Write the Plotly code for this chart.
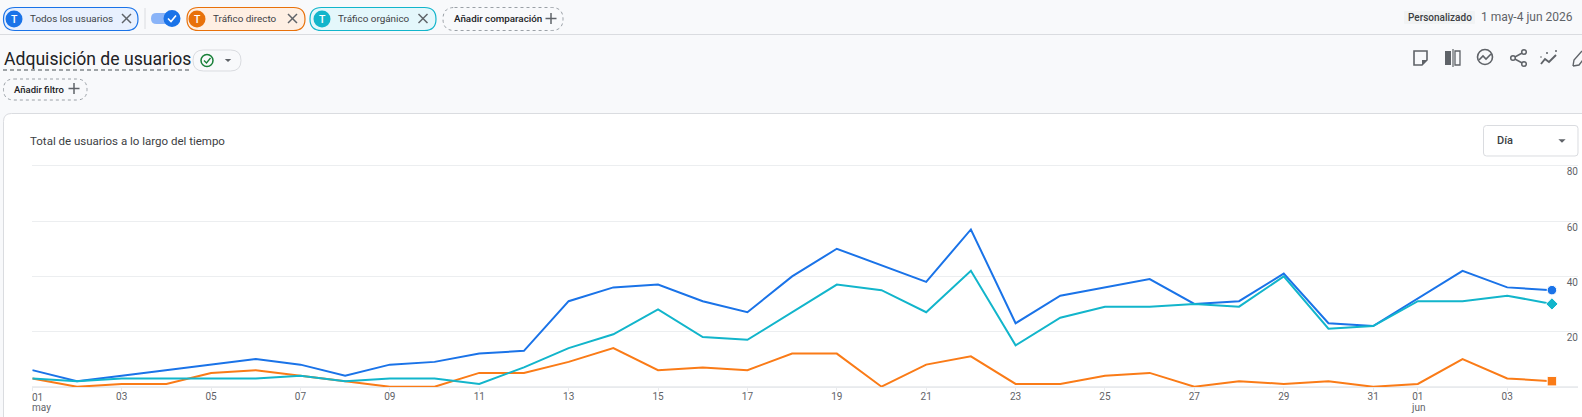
import plotly.graph_objects as go
import pandas as pd

W, H = 1582, 417

# Serie diaria de usuarios, 1 may - 4 jun 2026
dias = [d.strftime("%Y-%m-%d") for d in pd.date_range("2026-05-01", "2026-06-04")]
todos_usuarios = [6, 2, 4, 6, 8, 10, 8, 4, 8, 9, 12, 13, 31, 36, 37, 31, 27, 40, 50, 44, 38, 57, 23, 33, 36, 39, 30, 31, 41, 23, 22, 32, 42, 36, 35]
trafico_directo = [3, 0, 1, 1, 5, 6, 4, 2, 0, 0, 5, 5, 9, 14, 6, 7, 6, 12, 12, 0, 8, 11, 1, 1, 4, 5, 0, 2, 1, 2, 0, 1, 10, 3, 2]
trafico_organico = [3, 2, 3, 3, 3, 3, 4, 2, 3, 3, 1, 7, 14, 19, 28, 18, 17, 27, 37, 35, 27, 42, 15, 25, 29, 29, 30, 29, 40, 21, 22, 31, 31, 33, 30]

ticks_x = ["2026-05-01", "2026-05-03", "2026-05-05", "2026-05-07", "2026-05-09", "2026-05-11", "2026-05-13", "2026-05-15",
           "2026-05-17", "2026-05-19", "2026-05-21", "2026-05-23", "2026-05-25", "2026-05-27", "2026-05-29",
           "2026-05-31", "2026-06-01", "2026-06-03"]
etiquetas_x = ["", "03", "05", "07", "09", "11", "13", "15", "17", "19", "21", "23", "25", "27", "29", "31", "01", "03"]
ticks_y = [0, 20, 40, 60, 80]

AZUL, NARANJA, CIAN = "#1a73e8", "#fa7b17", "#12b5cb"
TEXTO, GRIS = "#3c4043", "#5f6368"
FUENTE = "Roboto"


def fx(x):
    return x / W


def fy(y):
    return 1 - y / H


shapes, notas = [], []


def linea(x0, y0, x1, y1, color, ancho=1, dash="solid"):
    shapes.append(dict(type="line", xref="paper", yref="paper", x0=fx(x0), y0=fy(y0), x1=fx(x1), y1=fy(y1),
                       line=dict(color=color, width=ancho, dash=dash)))


def trazado(puntos, relleno=None, color=None, ancho=1, dash="solid"):
    # Cada punto es (comando, x, y, ...) en píxeles de la página
    partes = []
    for p in puntos:
        if p[0] == "Z":
            partes.append("Z")
            continue
        coords = p[1:]
        pares = [f"{fx(coords[i]):.5f},{fy(coords[i + 1]):.5f}" for i in range(0, len(coords), 2)]
        partes.append(p[0] + " ".join(pares))
    shapes.append(dict(type="path", xref="paper", yref="paper", path=" ".join(partes),
                       fillcolor=relleno or "rgba(0,0,0,0)",
                       line=dict(color=color or "rgba(0,0,0,0)", width=ancho if color else 0, dash=dash)))


def caja(x0, y0, x1, y1, r, relleno=None, color=None, ancho=1, dash="solid"):
    trazado([("M", x0 + r, y0), ("L", x1 - r, y0), ("Q", x1, y0, x1, y0 + r), ("L", x1, y1 - r),
             ("Q", x1, y1, x1 - r, y1), ("L", x0 + r, y1), ("Q", x0, y1, x0, y1 - r), ("L", x0, y0 + r),
             ("Q", x0, y0, x0 + r, y0), ("Z",)], relleno, color, ancho, dash)


def disco(cx, cy, r, relleno=None, color=None, ancho=1):
    shapes.append(dict(type="circle", xref="paper", yref="paper", x0=fx(cx - r), x1=fx(cx + r), y0=fy(cy + r), y1=fy(cy - r),
                       fillcolor=relleno or "rgba(0,0,0,0)",
                       line=dict(color=color or "rgba(0,0,0,0)", width=ancho if color else 0)))


def texto(x, y, t, size=9.9, color=TEXTO, anchor="left", weight=400, align="left"):
    notas.append(dict(xref="paper", yref="paper", x=fx(x), y=fy(y), text=t, showarrow=False, xanchor=anchor, yanchor="middle",
                      align=align, borderpad=0, font=dict(family=FUENTE, size=size, color=color, weight=weight)))


def cruz(cx, cy, r, color=GRIS):
    linea(cx - r, cy - r, cx + r, cy + r, color, 1.5)
    linea(cx - r, cy + r, cx + r, cy - r, color, 1.5)


def mas(cx, cy, r, color=GRIS):
    linea(cx - r, cy, cx + r, cy, color, 1.5)
    linea(cx, cy - r, cx, cy + r, color, 1.5)


def chip(x0, x1, cx, tx, xx, etiqueta, color, fondo):
    caja(x0, 7.5, x1, 30.5, 11.5, fondo, color, 1.2)
    disco(cx, 19, 8.5, color)
    texto(cx, 19, "T", 10.5, "#ffffff", "center", 500)
    texto(tx, 18.5, etiqueta)
    cruz(xx, 18.5, 4.5)


def triangulo(cx, cy, r, color=GRIS):
    trazado([("M", cx - r, cy - r / 2), ("L", cx + r, cy - r / 2), ("L", cx, cy + r / 2), ("Z",)], color)


# Barra superior de comparaciones
chip(3.5, 138, 14, 28.5, 126.5, "Todos los usuarios", AZUL, "#e8f0fe")
linea(145, 8, 145, 29, "#dadce0")
caja(151, 13, 176, 24, 5.5, "#8ab4f8")
disco(172, 18.5, 8.5, AZUL)
trazado([("M", 168, 18.5), ("L", 171, 21.5), ("L", 176, 15.5)], None, "#ffffff", 1.6)
chip(187, 305, 197, 212, 292.5, "Tráfico directo", "#e8710a", "#feefe3")
chip(310, 436, 322, 337, 423, "Tráfico orgánico", CIAN, "#e4f7fb")
caja(443, 7.5, 563, 30.5, 11.5, None, "#9aa0a6", 1, "dot")
texto(453, 18.5, "Añadir comparación", 9.8, "#202124", weight=500)
mas(551, 18.5, 5.5)
linea(0, 34.5, W, 34.5, "#dadce0")

caja(1404, 11, 1475, 24, 1, "#f1f3f4")
texto(1407, 17.5, "Personalizado", 10, TEXTO, weight=500)
texto(1480, 17.5, "1 may-4 jun 2026", 12, GRIS)

# Cabecera del informe
texto(3, 59, "Adquisición de usuarios", 17.6, "#202124")
linea(3, 70, 190, 70, "#80868b", 1.5, "4px,3px")
caja(193, 50, 241, 71, 10.5, "#f8f9fb", "#dadce0")
disco(207, 60.5, 6, None, "#188038", 1.5)
trazado([("M", 204, 60.5), ("L", 206.5, 63), ("L", 210.5, 58)], None, "#188038", 1.3)
triangulo(228, 60.5, 3.2)
caja(3.5, 79, 87, 100, 10.5, None, "#9aa0a6", 1, "dot")
texto(12.5, 89, "Añadir filtro", 9.5, "#202124", weight=500)
mas(74, 88.5, 5.5)

# Iconos de acciones
trazado([("M", 1414, 51), ("L", 1427, 51), ("L", 1427, 60), ("L", 1422, 65), ("L", 1414, 65), ("Z",)], None, GRIS, 1.6)
trazado([("M", 1427, 60), ("L", 1422, 60), ("L", 1422, 65), ("Z",)], GRIS)
trazado([("M", 1445, 51), ("L", 1451, 51), ("L", 1451, 65), ("L", 1445, 65), ("Z",)], GRIS)
linea(1453, 49, 1453, 67, GRIS, 1.2)
trazado([("M", 1455, 51), ("L", 1460, 51), ("L", 1460, 65), ("L", 1455, 65), ("Z",)], None, GRIS, 1.3)
disco(1485, 57, 7.5, None, GRIS, 1.6)
trazado([("M", 1479, 60), ("L", 1483, 56), ("L", 1486, 59), ("L", 1491, 54)], None, GRIS, 1.6)
trazado([("M", 1524, 52), ("L", 1513, 58), ("L", 1524, 64)], None, GRIS, 1.5)
disco(1524, 52, 2.3, "#f8f9fb", GRIS, 1.5)
disco(1513, 58, 2.3, "#f8f9fb", GRIS, 1.5)
disco(1524, 64, 2.3, "#f8f9fb", GRIS, 1.5)
trazado([("M", 1541, 64), ("L", 1545, 59), ("L", 1549, 62), ("L", 1556, 55)], None, GRIS, 1.9)
disco(1547, 53, 1, GRIS)
disco(1556, 51, 1, GRIS)
disco(1541, 57, 0.8, GRIS)
trazado([("M", 1573, 66), ("L", 1574, 60), ("L", 1582, 51), ("M", 1573, 66), ("L", 1579, 65), ("L", 1586, 56)], None, GRIS, 1.4)

# Tarjeta del gráfico
caja(3.5, 113.5, W + 20, H + 20, 8, "#ffffff", "#dadce0")
texto(28.5, 141, "Total de usuarios a lo largo del tiempo", 11.5, TEXTO)
caja(1483.5, 125.5, 1578, 156, 3, "#ffffff", "#dadce0")
texto(1496, 140.5, "Día", 11, TEXTO, weight=500)
triangulo(1562, 141, 3.6)

# Hueco vertical de la rejilla en el último día
shapes.append(dict(type="line", xref="x", yref="paper", x0=dias[-1], x1=dias[-1], y0=fy(387.3), y1=fy(160),
                   layer="between", line=dict(color="#ffffff", width=4)))


# Rótulos de mes bajo el eje; el primer día va alineado a la izquierda de su marca
def rotulo_eje(fecha, y, t, anchor):
    notas.append(dict(xref="x", yref="paper", x=fecha, y=fy(y), text=t, showarrow=False, xanchor=anchor,
                      yanchor="middle", borderpad=0, xshift=-1 if anchor == "left" else 0,
                      font=dict(family=FUENTE, size=10, color=GRIS)))


rotulo_eje("2026-05-01", 397, "01", "left")
rotulo_eje("2026-05-01", 407, "may", "left")
rotulo_eje("2026-06-01", 407, "jun", "center")

for s in shapes:
    s.setdefault("layer", "below")

fig = go.Figure()
for nombre, serie, color, simbolo in [("Todos los usuarios", todos_usuarios, AZUL, "circle"),
                                      ("Tráfico directo", trafico_directo, NARANJA, "square"),
                                      ("Tráfico orgánico", trafico_organico, CIAN, "diamond")]:
    fig.add_trace(go.Scatter(x=dias, y=serie, mode="lines", name=nombre, cliponaxis=False,
                             line=dict(color=color, width=2)))
    fig.add_trace(go.Scatter(x=dias[-1:], y=serie[-1:], mode="markers", name=nombre, cliponaxis=False,
                             marker=dict(color=color, symbol=simbolo, size=9.5, line=dict(color="#ffffff", width=1))))

# Escala vertical: el rango sobresale de 0-80 para conservar los rótulos extremos
Y_CERO, Y_TOPE = 386.7, 166.0
PX_POR_USUARIO = (Y_CERO - Y_TOPE) / 80
MARGEN = 4

fig.update_layout(
    width=W, height=H, autosize=False, showlegend=False,
    margin=dict(l=0, r=0, t=0, b=0, autoexpand=False),
    paper_bgcolor="#f8f9fb", plot_bgcolor="rgba(0,0,0,0)",
    shapes=shapes, annotations=notas,
    font=dict(family=FUENTE, color=GRIS, size=10),
    xaxis=dict(
        type="date", domain=[fx(32.3), fx(1578)],
        range=["2026-05-01 00:00", "2026-06-04 14:00"],
        tickmode="array", tickvals=ticks_x, ticktext=etiquetas_x,
        ticks="outside", ticklen=3, ticklabelstandoff=-3, tickcolor="#e8eaed", showline=True, linecolor="#e8eaed",
        showgrid=False, zeroline=False, tickfont=dict(size=10, color=GRIS),
        anchor="free", position=fy(387.3),
    ),
    yaxis=dict(
        domain=[fy(Y_CERO + MARGEN * PX_POR_USUARIO), fy(Y_TOPE - MARGEN * PX_POR_USUARIO)],
        range=[-MARGEN, 80 + MARGEN], side="right", anchor="x",
        tickmode="array", tickvals=ticks_y, ticktext=[str(v) for v in ticks_y],
        ticklabelposition="inside", ticklabelshift=6, ticklabelstandoff=-3, ticks="", gridcolor="#eceef0", gridwidth=1,
        zeroline=False, showline=False, tickfont=dict(size=10, color=GRIS),
    ),
)

fig.write_html("out.html")
